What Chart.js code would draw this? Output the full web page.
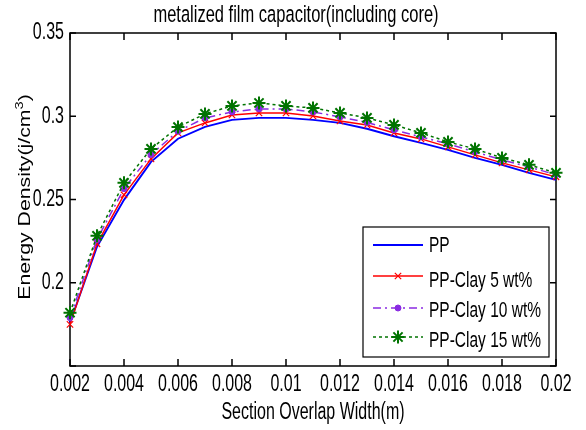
<!DOCTYPE html>
<html>
<head>
<meta charset="utf-8">
<script src="https://cdn.jsdelivr.net/npm/chart.js@4.4.1/dist/chart.umd.min.js"></script>
<style>
  html, body { margin: 0; background: #fff; }
  #wrap { width: 586px; height: 430px; position: relative; }
</style>
</head>
<body>
<div id="wrap"><canvas id="energyChart"></canvas></div>
<script>
// section overlap width (m) and energy density (j/cm^3) per film
const overlapWidth  = [0.002, 0.003, 0.004, 0.005, 0.006, 0.007, 0.008, 0.009, 0.010, 0.011,
                       0.012, 0.013, 0.014, 0.015, 0.016, 0.017, 0.018, 0.019, 0.020];
const ppDensity     = [0.176, 0.2216, 0.2498, 0.2726, 0.2865, 0.2936, 0.2978, 0.299, 0.299, 0.2978,
                       0.296, 0.2925, 0.288, 0.284, 0.2798, 0.275, 0.2708, 0.266, 0.2618];
const clay5Density  = [0.175, 0.2234, 0.2528, 0.2744, 0.290, 0.296, 0.3008, 0.302, 0.302, 0.3002,
                       0.2972, 0.2948, 0.290, 0.2864, 0.2816, 0.2768, 0.272, 0.2678, 0.2636];
const clay10Density = [0.179, 0.226, 0.2565, 0.277, 0.291, 0.299, 0.3026, 0.3044, 0.3044, 0.3026,
                       0.2996, 0.2963, 0.2918, 0.2876, 0.2834, 0.2786, 0.2738, 0.2696, 0.2648];
const clay15Density = [0.182, 0.2282, 0.260, 0.2804, 0.2935, 0.3014, 0.3062, 0.308, 0.3062, 0.305,
                       0.302, 0.299, 0.2948, 0.290, 0.2846, 0.2804, 0.275, 0.2708, 0.266];

const seriesNames = ['PP', 'PP-Clay 5 wt%', 'PP-Clay 10 wt%', 'PP-Clay 15 wt%'];

const xTicks      = [0.002, 0.004, 0.006, 0.008, 0.010, 0.012, 0.014, 0.016, 0.018, 0.020];
const xTickLabels = ['0.002', '0.004', '0.006', '0.008', '0.01', '0.012', '0.014', '0.016', '0.018', '0.02'];
const yTicks      = [0.15, 0.20, 0.25, 0.30, 0.35];
const yTickLabels = ['', '0.2', '0.25', '0.3', '0.35'];

const FONT = '"Liberation Sans", Arial, sans-serif';
const STRETCH = 1.45; // tall glyphs

function toPoints(ys) {
  return overlapWidth.map((x, i) => ({ x: x, y: ys[i] }));
}

// text drawn squeezed into a taller box
function tallText(ctx, text, x, y, align, size) {
  ctx.save();
  ctx.font = size + 'px ' + FONT;
  ctx.translate(x, y);
  ctx.scale(1, STRETCH);
  ctx.textAlign = align;
  ctx.textBaseline = 'middle';
  ctx.fillText(text, 0, 0);
  ctx.restore();
}

// box, inward ticks, labels, titles and legend in the old plotting style
const framePlugin = {
  id: 'frame',
  beforeDatasetsDraw(chart) {
    const ctx = chart.ctx;
    const a = chart.chartArea;
    const xs = chart.scales.x, ys = chart.scales.y;
    ctx.save();
    ctx.strokeStyle = '#000';
    ctx.lineWidth = 1.5;
    ctx.strokeRect(a.left, a.top, a.right - a.left, a.bottom - a.top);
    ctx.beginPath();
    xTicks.forEach(v => {
      const px = xs.getPixelForValue(v);
      ctx.moveTo(px, a.bottom); ctx.lineTo(px, a.bottom - 7);
      ctx.moveTo(px, a.top);    ctx.lineTo(px, a.top + 7);
    });
    yTicks.forEach(v => {
      const py = ys.getPixelForValue(v);
      ctx.moveTo(a.left, py);  ctx.lineTo(a.left + 6, py);
      ctx.moveTo(a.right, py); ctx.lineTo(a.right - 6, py);
    });
    ctx.stroke();

    ctx.fillStyle = '#000';
    xTicks.forEach((v, i) => tallText(ctx, xTickLabels[i], xs.getPixelForValue(v), a.bottom + 19, 'center', 16));
    yTicks.forEach((v, i) => tallText(ctx, yTickLabels[i], a.left - 6, ys.getPixelForValue(v), 'right', 16));

    tallText(ctx, 'metalized film capacitor(including core)', 296, 15, 'center', 16.5);
    tallText(ctx, 'Section Overlap Width(m)', (a.left + a.right) / 2, 413, 'center', 16);

    // y title with superscript, stretched along its length
    ctx.save();
    ctx.translate(26, 197);
    ctx.rotate(-Math.PI / 2);
    ctx.scale(1.33, 1);
    ctx.textBaseline = 'middle';
    ctx.textAlign = 'left';
    ctx.font = '16px ' + FONT;
    const main = 'Energy Density(j/cm', close = ')';
    const w1 = ctx.measureText(main).width;
    const w3 = ctx.measureText(close).width;
    ctx.font = '11px ' + FONT;
    const w2 = ctx.measureText('3').width;
    const start = -(w1 + w2 + w3) / 2;
    ctx.font = '16px ' + FONT;
    ctx.fillText(main, start, 0);
    ctx.fillText(close, start + w1 + w2, 0);
    ctx.font = '11px ' + FONT;
    ctx.fillText('3', start + w1, -6);
    ctx.restore();
    ctx.restore();
  },
  afterDraw(chart) {
    const ctx = chart.ctx;
    const box = { x: 363, y: 227, w: 186, h: 130 };
    const rows = [245, 276, 308, 337];
    const textRows = [246, 281, 311, 341];
    ctx.save();
    ctx.fillStyle = '#fff';
    ctx.fillRect(box.x, box.y, box.w, box.h);
    ctx.strokeStyle = '#000';
    ctx.lineWidth = 1.2;
    ctx.strokeRect(box.x, box.y, box.w, box.h);
    chart.data.datasets.forEach((ds, i) => {
      const y = rows[i];
      ctx.save();
      ctx.strokeStyle = ds.borderColor;
      ctx.lineWidth = ds.borderWidth;
      ctx.setLineDash(ds.borderDash || []);
      ctx.beginPath();
      ctx.moveTo(373, y);
      ctx.lineTo(423, y);
      ctx.stroke();
      ctx.setLineDash([]);
      if (ds.pointRadius > 0) {
        ctx.fillStyle = ds.pointBackgroundColor;
        ctx.strokeStyle = ds.pointBorderColor;
        ctx.lineWidth = ds.pointBorderWidth;
        Chart.helpers.drawPoint(ctx, {
          pointStyle: ds.pointStyle, radius: ds.pointRadius, rotation: 0, borderWidth: ds.pointBorderWidth
        }, 398, y);
      }
      ctx.restore();
      ctx.fillStyle = '#000';
      tallText(ctx, ds.label, 429, textRows[i], 'left', 15.5);
    });
    ctx.restore();
  }
};

const datasets = [
  {
    label: seriesNames[0], data: toPoints(ppDensity),
    borderColor: '#0000ff', borderWidth: 1.9, pointRadius: 0, order: 4
  },
  {
    label: seriesNames[1], data: toPoints(clay5Density),
    borderColor: '#ff0000', borderWidth: 1.5, pointStyle: 'crossRot', pointRadius: 4.5,
    pointBorderColor: '#ff0000', pointBackgroundColor: '#ff0000', pointBorderWidth: 1.2, order: 3
  },
  {
    label: seriesNames[2], data: toPoints(clay10Density),
    borderColor: '#8a2be2', borderWidth: 1.5, borderDash: [8, 4, 2, 4], pointStyle: 'circle', pointRadius: 3,
    pointBorderColor: '#8a2be2', pointBackgroundColor: '#8a2be2', pointBorderWidth: 1, order: 2
  },
  {
    label: seriesNames[3], data: toPoints(clay15Density),
    borderColor: '#007300', borderWidth: 1.5, borderDash: [3, 3], pointStyle: 'star', pointRadius: 6.5,
    pointBorderColor: '#007300', pointBackgroundColor: '#007300', pointBorderWidth: 2, order: 1
  }
];

new Chart(document.getElementById('energyChart'), {
  type: 'line',
  data: { datasets: datasets },
  options: {
    responsive: true,
    maintainAspectRatio: false,
    animation: false,
    datasets: { line: { tension: 0, clip: false } },
    layout: { padding: { top: 33, right: 30, left: 0, bottom: 0 } },
    plugins: { legend: { display: false }, tooltip: { enabled: false } },
    scales: {
      x: {
        type: 'linear', min: 0.002, max: 0.02,
        grid: { display: false, drawTicks: false },
        border: { display: false },
        ticks: { display: false, stepSize: 0.002 },
        afterFit: s => { s.height = 64; }
      },
      y: {
        min: 0.15, max: 0.35,
        grid: { display: false, drawTicks: false },
        border: { display: false },
        ticks: { display: false, stepSize: 0.05 },
        afterFit: s => { s.width = 70; }
      }
    }
  },
  plugins: [framePlugin]
});
</script>
</body>
</html>
